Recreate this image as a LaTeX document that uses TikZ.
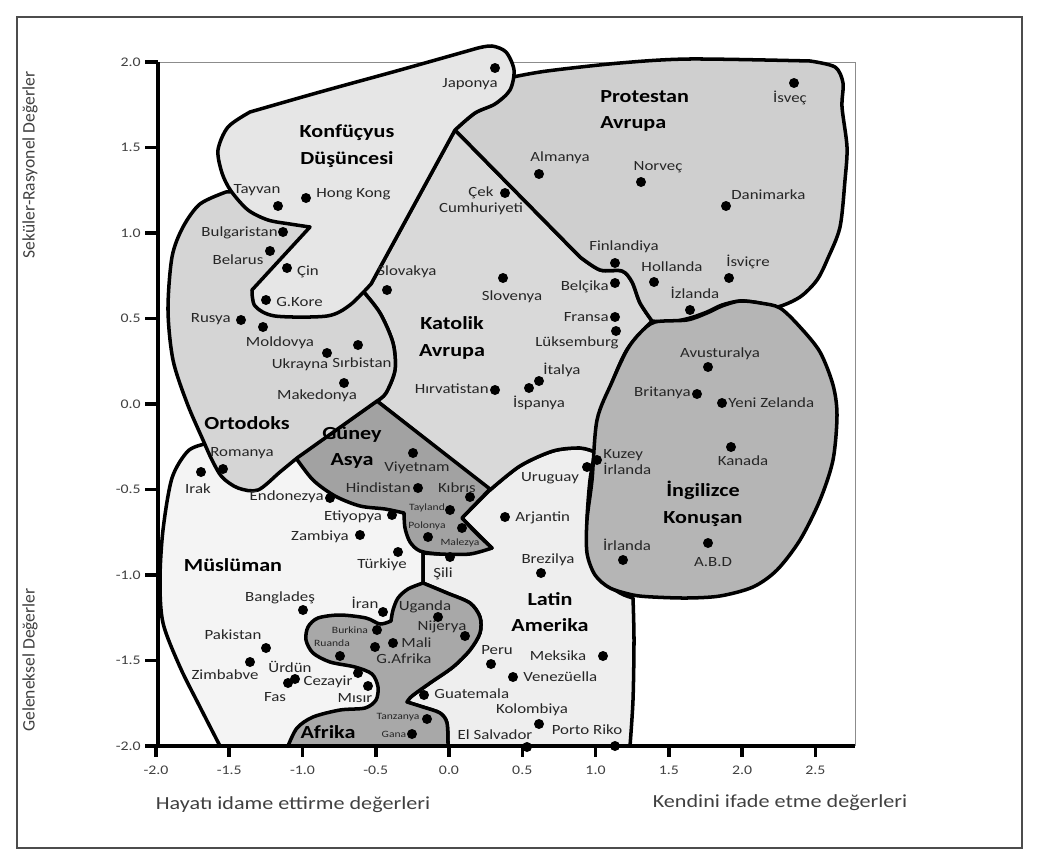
\documentclass[tikz,border=0pt]{standalone}
\usepackage{fontspec}
\setmainfont{Carlito}[FakeStretch=1.2]
\newfontfamily\dikfont{Carlito}
\definecolor{musgri}{HTML}{F4F4F4}
\definecolor{latgri}{HTML}{EEEEEE}
\definecolor{afgri}{HTML}{A8A8A8}
\definecolor{asyagri}{HTML}{A2A2A2}
\definecolor{ortgri}{HTML}{D5D5D5}
\definecolor{konfgri}{HTML}{E6E6E6}
\definecolor{katgri}{HTML}{D9D9D9}
\definecolor{protgri}{HTML}{CFCFCF}
\definecolor{inggri}{HTML}{B5B5B5}
\tikzset{
    bolge/.style={draw=black, line width=2pt, line join=round}, % outline of a cultural zone
    nokta/.style={circle, fill=black, inner sep=0pt, minimum size=0.2cm}, % one country
    ulke/.style={font=\fontsize{8}{9}\selectfont, inner sep=0pt, text=black!85},
    kucuk/.style={font=\fontsize{5.5}{6}\selectfont, inner sep=0pt, text=black!85},
    baslik/.style={font=\fontsize{10.5}{15}\selectfont\bfseries, align=center, inner sep=0pt},
    eksen/.style={font=\fontsize{7.5}{8}\selectfont, inner sep=0pt, text=black!75},
}
\begin{document}
\begin{tikzpicture}[x=0.02cm, y=-0.02cm]
\useasboundingbox (0,0) rectangle (1037,865);
\draw[black!70, line width=0.6pt] (17,17) rectangle (1022,848);
\draw[black!45, line width=0.5pt] (158,62) -- (855,62) -- (855,746);

% zones, from the back to the front
\draw[bolge, fill=musgri] (205,444) -- plot[smooth] coordinates {(205,444) (188,451) (172,478) (163,530) (160,580) (163,623) (180,667) (200,707) (220,746)}
    -- (423,746) -- (423,553) -- (403,512) -- (300,457) -- cycle;
\draw[bolge, fill=latgri] (490,490) -- plot[smooth] coordinates {(490,490) (520,466) (553,451) (580,448) (595,452)}
    -- plot[smooth] coordinates {(595,452) (590,480) (587,520) (588,553) (598,577) (620,593) (633,598)}
    -- plot[smooth] coordinates {(633,598) (634,640) (633,700) (630,746)}
    -- (448,746)
    -- plot[smooth] coordinates {(448,746) (447,723) (440,713) (423,707) (407,702)}
    -- plot[smooth] coordinates {(407,702) (412,696) (430,683) (453,667) (470,650) (480,633) (480,617) (470,603) (447,593) (423,583)}
    -- (423,553)
    -- plot[smooth] coordinates {(423,553) (453,554) (492,548)}
    -- plot[smooth] coordinates {(492,548) (478,534) (462,518)}
    -- cycle;
\draw[bolge, fill=afgri] plot[smooth] coordinates {(423,583) (447,593) (470,603) (480,617) (480,633) (470,650) (453,667) (430,683) (412,696) (407,702)}
    -- plot[smooth] coordinates {(407,702) (423,707) (440,713) (447,723) (448,746)}
    -- (288,746)
    -- plot[smooth] coordinates {(288,746) (297,728) (313,717) (340,710) (365,708) (376,700) (378,687) (372,674) (355,667) (330,662) (313,653) (306,640) (308,627) (318,618) (340,615) (366,618) (380,624) (391,621)}
    -- plot[smooth] coordinates {(391,621) (393,610) (398,598) (408,589) (423,583)}
    -- cycle;
\draw[bolge, fill=katgri] (455,130) -- (580,257)
    -- plot[smooth] coordinates {(580,257) (600,270) (622,271) (632,282) (640,303) (652,321)}
    -- plot[smooth] coordinates {(652,321) (628,348) (613,380) (600,417) (595,452)}
    -- plot[smooth] coordinates {(595,452) (580,448) (553,451) (520,466) (490,490)}
    -- (377,401)
    -- plot[smooth] coordinates {(377,401) (386,393) (395,370) (393,343) (380,313) (362,290)}
    -- (371,284) -- cycle;
\draw[bolge, fill=protgri] (455,130) -- (580,257)
    -- plot[smooth] coordinates {(580,257) (600,270) (622,271) (632,282) (640,303) (652,321)}
    -- plot[smooth] coordinates {(652,321) (670,322) (690,318) (707,312) (722,305) (740,301) (760,303) (777,307) (800,297) (817,280) (828,258) (840,227) (845,180) (847,147) (842,107) (843,83) (835,67) (810,61)}
    -- plot[smooth] coordinates {(810,61) (690,59) (620,63) (547,71) (513,77)}
    -- plot[smooth] coordinates {(513,77) (500,100) (475,113) (455,130)}
    -- cycle;
\draw[bolge, fill=inggri] plot[smooth cycle] coordinates {(640,333) (655,322) (687,320) (707,313) (722,306) (740,301) (760,303) (780,308) (800,327) (820,352) (833,385) (837,415) (833,460) (820,500) (800,540) (777,570) (753,587) (720,596) (687,598) (653,597) (633,595) (610,588) (595,575) (587,553) (587,520) (592,480) (597,420) (612,382) (627,350)};
\draw[bolge, fill=asyagri] (377,401) -- (490,489) -- (462,518)
    -- plot[smooth] coordinates {(462,518) (476,533) (492,548)}
    -- plot[smooth] coordinates {(492,548) (470,554) (440,554) (420,551) (410,542) (405,528) (404,513)}
    -- plot[smooth] coordinates {(404,513) (385,509) (360,506) (335,496) (313,480) (296,458)}
    -- cycle;
\draw[bolge, fill=ortgri] (226,192) -- plot[smooth] coordinates {(226,192) (200,204) (183,227) (172,257) (168,310) (173,360) (187,403) (203,440) (212,460) (222,477) (238,488) (258,490) (280,472) (297,458)}
    -- (377,401)
    -- plot[smooth] coordinates {(377,401) (386,393) (395,370) (393,343) (380,313) (362,290)}
    -- (345,250) -- (320,215) -- (260,190) -- cycle;
\draw[bolge, fill=konfgri] (310,227) -- (252,290)
    -- plot[smooth] coordinates {(252,290) (255,306) (275,316) (327,316) (350,305) (371,284)}
    -- (455,130)
    -- plot[smooth] coordinates {(455,130) (475,113) (495,104) (510,90) (514,70) (506,52) (492,46) (478,48)}
    -- plot[smooth] coordinates {(478,48) (400,70) (320,92) (250,112)}
    -- plot[smooth] coordinates {(250,112) (228,127) (218,150) (222,173) (231,191) (248,210) (268,220) (290,224) (310,227)}
    -- cycle;

% axes
\draw[line width=2.2pt] (158,62) -- (158,746) -- (855,746);
\foreach \etiket [count=\i from 0] in {2.0,1.5,1.0,0.5,0.0,-0.5,-1.0,-1.5,-2.0} {
    \draw[line width=2pt] (145,62+85.5*\i) -- (158,62+85.5*\i);
    \node[eksen, anchor=east] (y\i) at (141,62+85.5*\i) {\etiket};
}
\foreach \etiket [count=\i from 0] in {-2.0,-1.5,-1.0,-0.5,0.0,0.5,1.0,1.5,2.0,2.5} {
    \draw[line width=2pt] (156+73.25*\i,746) -- (156+73.25*\i,757);
    \node[eksen] (x\i) at (156+73.25*\i,770) {\etiket};
}
\node[font=\fontsize{10.5}{12}\selectfont, text=black!75] (hayat) at (293,805) {Hayatı idame ettirme değerleri};
\node[font=\fontsize{10.5}{12}\selectfont, text=black!75] (kendini) at (780,803) {Kendini ifade etme değerleri};
\node[rotate=90, font=\dikfont\fontsize{10}{12}\selectfont, text=black!75] (sekuler) at (30,165) {Seküler-Rasyonel Değerler};
\node[rotate=90, font=\dikfont\fontsize{10}{12}\selectfont, text=black!75] (gelenek) at (30,660) {Geleneksel Değerler};

% zone names
\node[baslik] (konf) at (347,146) {Konfüçyus\\Düşüncesi};
\node[baslik, anchor=west, align=left] (prot) at (600,111) {Protestan\\Avrupa};
\node[baslik] (kat) at (452,338) {Katolik\\Avrupa};
\node[baslik] (ort) at (247,423) {Ortodoks};
\node[baslik] (guney) at (352,448) {Güney\\Asya};
\node[baslik] (musl) at (233,565) {Müslüman};
\node[baslik] (afr) at (328,732) {Afrika};
\node[baslik] (latin) at (550,612) {Latin\\Amerika};
\node[baslik] (ingiliz) at (703,504) {İngilizce\\Konuşan};

% countries
\node[nokta] (jpn) at (495,68) {};
\node[ulke] (jpn-a) at (470,84) {Japonya};
\node[nokta] (isv) at (794,83) {};
\node[ulke] (isv-a) at (790,98) {İsveç};
\node[nokta] (alm) at (539,174) {};
\node[ulke] (alm-a) at (560,158) {Almanya};
\node[nokta] (nor) at (641,182) {};
\node[ulke] (nor-a) at (658,167) {Norveç};
\node[nokta] (dan) at (726,206) {};
\node[ulke, anchor=west] (dan-a) at (731,195) {Danimarka};
\node[nokta] (cek) at (505,193) {};
\node[ulke, align=center] (cek-a) at (481,201) {Çek\\Cumhuriyeti};
\node[nokta] (fin) at (615,263) {};
\node[ulke] (fin-a) at (624,247) {Finlandiya};
\node[nokta] (hol) at (654,282) {};
\node[ulke] (hol-a) at (672,267) {Hollanda};
\node[nokta] (isvc) at (729,278) {};
\node[ulke] (isvc-a) at (748,262) {İsviçre};
\node[nokta] (izl) at (690,310) {};
\node[ulke] (izl-a) at (695,293) {İzlanda};
\node[nokta] (bel) at (615,283) {};
\node[ulke, anchor=east] (bel-a) at (609,287) {Belçika};
\node[nokta] (fra) at (615,317) {};
\node[ulke, anchor=east] (fra-a) at (609,317) {Fransa};
\node[nokta] (luk) at (616,331) {};
\node[ulke] (luk-a) at (577,343) {Lüksemburg};
\node[nokta] (slvn) at (503,278) {};
\node[ulke] (slvn-a) at (512,297) {Slovenya};
\node[nokta] (slvk) at (387,290) {};
\node[ulke] (slvk-a) at (407,272) {Slovakya};
\node[nokta] (ita) at (539,381) {};
\node[ulke] (ita-a) at (562,370) {İtalya};
\node[nokta] (isp) at (529,388) {};
\node[ulke] (isp-a) at (539,403) {İspanya};
\node[nokta] (hrv) at (495,390) {};
\node[ulke, anchor=east] (hrv-a) at (489,389) {Hırvatistan};
\node[nokta] (tay) at (278,206) {};
\node[ulke] (tay-a) at (257,190) {Tayvan};
\node[nokta] (hk) at (306,198) {};
\node[ulke, anchor=west] (hk-a) at (316,194) {Hong Kong};
\node[nokta] (bul) at (283,232) {};
\node[ulke, anchor=east] (bul-a) at (278,233) {Bulgaristan};
\node[nokta] (blr) at (270,251) {};
\node[ulke] (blr-a) at (238,260) {Belarus};
\node[nokta] (cin) at (287,268) {};
\node[ulke] (cin-a) at (308,272) {Çin};
\node[nokta] (kor) at (266,300) {};
\node[ulke, anchor=west] (kor-a) at (276,302) {G.Kore};
\node[nokta] (rus) at (241,320) {};
\node[ulke, anchor=east] (rus-a) at (231,319) {Rusya};
\node[nokta] (mol) at (263,327) {};
\node[ulke] (mol-a) at (280,343) {Moldovya};
\node[nokta] (ukr) at (327,353) {};
\node[ulke] (ukr-a) at (300,365) {Ukrayna};
\node[nokta] (srb) at (358,345) {};
\node[ulke] (srb-a) at (362,363) {Sırbistan};
\node[nokta] (mak) at (344,383) {};
\node[ulke] (mak-a) at (317,396) {Makedonya};
\node[nokta] (rom) at (223,469) {};
\node[ulke] (rom-a) at (242,453) {Romanya};
\node[nokta] (irk) at (201,472) {};
\node[ulke] (irk-a) at (198,489) {Irak};
\node[nokta] (viy) at (413,453) {};
\node[ulke] (viy-a) at (417,468) {Viyetnam};
\node[nokta] (hin) at (418,488) {};
\node[ulke, anchor=east] (hin-a) at (411,488) {Hindistan};
\node[nokta] (kib) at (470,497) {};
\node[ulke] (kib-a) at (457,488) {Kıbrıs};
\node[nokta] (tld) at (450,510) {};
\node[kucuk] (tld-a) at (427,508) {Tayland};
\node[nokta] (pol) at (462,528) {};
\node[kucuk] (pol-a) at (427,526) {Polonya};
\node[nokta] (mal) at (428,537) {};
\node[kucuk] (mal-a) at (460,543) {Malezya};
\node[nokta] (end) at (330,498) {};
\node[ulke, anchor=east] (end-a) at (324,497) {Endonezya};
\node[nokta] (eti) at (392,515) {};
\node[ulke] (eti-a) at (353,517) {Etiyopya};
\node[nokta] (zam) at (360,535) {};
\node[ulke] (zam-a) at (320,537) {Zambiya};
\node[nokta] (tur) at (398,552) {};
\node[ulke] (tur-a) at (382,565) {Türkiye};
\node[nokta] (sil) at (450,557) {};
\node[ulke] (sil-a) at (443,574) {Şili};
\node[nokta] (uru) at (587,467) {};
\node[ulke] (uru-a) at (550,478) {Uruguay};
\node[nokta] (kirl) at (597,460) {};
\node[ulke, anchor=west, align=left] (kirl-a) at (603,462) {Kuzey\\İrlanda};
\node[nokta] (arj) at (505,517) {};
\node[ulke, anchor=west] (arj-a) at (515,518) {Arjantin};
\node[nokta] (bre) at (541,573) {};
\node[ulke] (bre-a) at (548,560) {Brezilya};
\node[nokta] (ban) at (303,610) {};
\node[ulke] (ban-a) at (280,598) {Bangladeş};
\node[nokta] (irn) at (383,612) {};
\node[ulke] (irn-a) at (365,603) {İran};
\node[nokta] (bur) at (377,630) {};
\node[kucuk] (bur-a) at (350,630) {Burkina};
\node[nokta] (rua) at (340,656) {};
\node[kucuk] (rua-a) at (332,643) {Ruanda};
\node[nokta] (mli) at (393,643) {};
\node[ulke, anchor=west] (mli-a) at (401,643) {Mali};
\node[nokta] (gaf) at (375,647) {};
\node[ulke] (gaf-a) at (404,659) {G.Afrika};
\node[nokta] (uga) at (438,617) {};
\node[ulke] (uga-a) at (425,607) {Uganda};
\node[nokta] (nij) at (465,636) {};
\node[ulke] (nij-a) at (442,627) {Nijerya};
\node[nokta] (pak) at (266,648) {};
\node[ulke] (pak-a) at (233,635) {Pakistan};
\node[nokta] (zim) at (250,662) {};
\node[ulke] (zim-a) at (225,675) {Zimbabve};
\node[nokta] (urd) at (295,679) {};
\node[ulke] (urd-a) at (290,667) {Ürdün};
\node[nokta] (fas) at (288,683) {};
\node[ulke] (fas-a) at (275,697) {Fas};
\node[nokta] (cez) at (358,673) {};
\node[ulke] (cez-a) at (328,682) {Cezayir};
\node[nokta] (mis) at (368,686) {};
\node[ulke] (mis-a) at (355,698) {Mısır};
\node[nokta] (tan) at (427,719) {};
\node[kucuk] (tan-a) at (398,717) {Tanzanya};
\node[nokta] (gan) at (412,734) {};
\node[kucuk] (gan-a) at (394,734) {Gana};
\node[nokta] (per) at (491,664) {};
\node[ulke] (per-a) at (497,650) {Peru};
\node[nokta] (mek) at (603,656) {};
\node[ulke] (mek-a) at (558,656) {Meksika};
\node[nokta] (ven) at (513,677) {};
\node[ulke, anchor=west] (ven-a) at (523,677) {Venezüella};
\node[nokta] (gua) at (424,695) {};
\node[ulke, anchor=west] (gua-a) at (434,694) {Guatemala};
\node[nokta] (kol) at (539,724) {};
\node[ulke] (kol-a) at (532,710) {Kolombiya};
\node[nokta] (els) at (527,747) {};
\node[ulke] (els-a) at (495,735) {El Salvador};
\node[nokta] (por) at (615,746) {};
\node[ulke] (por-a) at (587,730) {Porto Riko};
\node[nokta] (abd) at (708,543) {};
\node[ulke] (abd-a) at (713,562) {A.B.D};
\node[nokta] (irl) at (623,560) {};
\node[ulke] (irl-a) at (627,545) {İrlanda};
\node[nokta] (avs) at (708,367) {};
\node[ulke] (avs-a) at (720,354) {Avusturalya};
\node[nokta] (bri) at (697,394) {};
\node[ulke, anchor=east] (bri-a) at (691,393) {Britanya};
\node[nokta] (yz) at (722,403) {};
\node[ulke, anchor=west] (yz-a) at (728,403) {Yeni Zelanda};
\node[nokta] (kan) at (731,447) {};
\node[ulke] (kan-a) at (743,461) {Kanada};
\end{tikzpicture}
\end{document}
